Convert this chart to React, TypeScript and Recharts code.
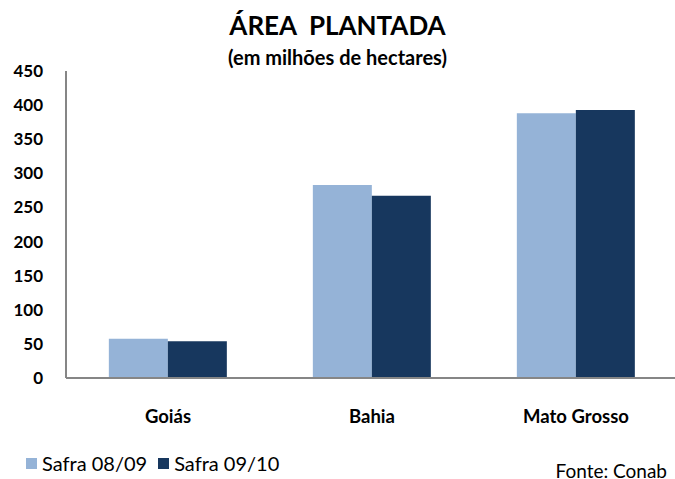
import { BarChart, Bar, XAxis, YAxis } from "recharts";

const states = ["Goiás", "Bahia", "Mato Grosso"];
const safra0809 = [57.5, 283, 388];
const safra0910 = [54, 267, 393];
const yTicks = [0, 50, 100, 150, 200, 250, 300, 350, 400, 450];

const LIGHT = "#95b3d7";
const DARK = "#17375e";
const FONT = "Lato, 'Open Sans', sans-serif";

const data = states.map((name, i) => ({
  name,
  a: safra0809[i],
  b: safra0910[i],
}));

const yTick = { fontSize: 17, fontWeight: 700, fill: "#000", fontFamily: FONT };
const xTick = { fontSize: 18.5, fontWeight: 700, fill: "#000", fontFamily: FONT };

export default function App() {
  return (
    <div
      style={{
        position: "absolute",
        left: 0,
        top: 0,
        width: 675,
        height: 479,
        overflow: "hidden",
        background: "#fff",
        fontFamily: FONT,
      }}
    >
      <div
        style={{
          position: "absolute",
          top: 10,
          width: 675,
          textAlign: "center",
          fontSize: 26,
          lineHeight: 1.2,
          fontWeight: 700,
          whiteSpace: "pre",
        }}
      >
        {"ÁREA  PLANTADA"}
      </div>
      <div
        style={{
          position: "absolute",
          top: 45,
          width: 675,
          textAlign: "center",
          fontSize: 20,
          lineHeight: 1.2,
          fontWeight: 700,
        }}
      >
        (em milhões de hectares)
      </div>

      <BarChart
        width={680}
        height={479}
        data={data}
        margin={{ top: 71, right: 2, bottom: 71, left: 0 }}
        barCategoryGap="21%"
        barGap={0}
      >
        <XAxis
          dataKey="name"
          height={30}
          tick={xTick}
          tickLine={false}
          tickMargin={26}
          axisLine={{ stroke: "#868686", strokeWidth: 2 }}
          interval={0}
        />
        <YAxis
          width={66}
          domain={[0, 450]}
          ticks={yTicks}
          tick={yTick}
          tickLine={false}
          tickMargin={17}
          axisLine={{ stroke: "#868686", strokeWidth: 2 }}
        />
        <Bar dataKey="a" name="Safra 08/09" fill={LIGHT} isAnimationActive={false} />
        <Bar dataKey="b" name="Safra 09/10" fill={DARK} isAnimationActive={false} />
      </BarChart>

      <div
        style={{
          position: "absolute",
          left: 26,
          top: 451,
          height: 24,
          display: "flex",
          alignItems: "center",
          fontSize: 20,
          lineHeight: 1.2,
          color: "#000",
        }}
      >
        <span style={{ width: 11, height: 11, background: LIGHT, marginRight: 5 }} />
        <span style={{ marginRight: 11 }}>Safra 08/09</span>
        <span style={{ width: 11, height: 11, background: DARK, marginRight: 5 }} />
        <span>Safra 09/10</span>
      </div>
      <div
        style={{
          position: "absolute",
          right: 8,
          top: 460,
          fontSize: 19,
          lineHeight: 1.2,
          color: "#000",
          whiteSpace: "nowrap",
        }}
      >
        Fonte: Conab
      </div>
    </div>
  );
}
